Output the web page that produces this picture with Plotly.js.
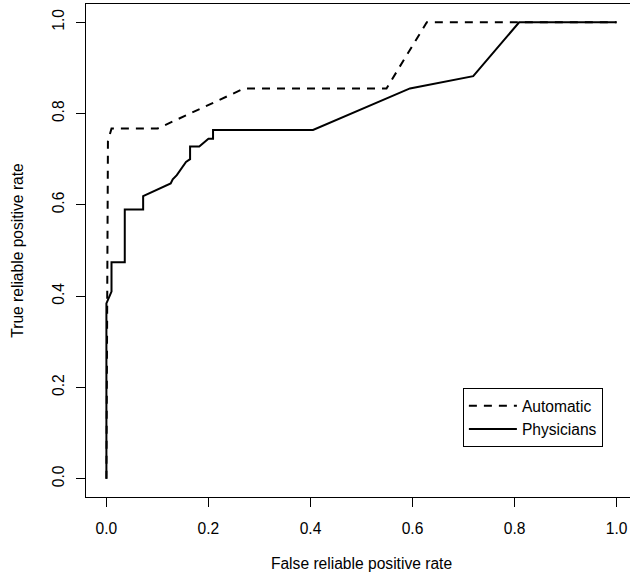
<!DOCTYPE html>
<html>
<head>
<meta charset="utf-8">
<script src="https://cdn.plot.ly/plotly-3.0.1.min.js"></script>
<style>
html, body { margin: 0; padding: 0; overflow: hidden; background: #fff; }
#chart { width: 640px; height: 577px; }
</style>
</head>
<body>
<div id="chart"></div>
<script>
// Automatic ROC curve
const autoFpr = [0, 0.003, 0.01, 0.1, 0.27, 0.549, 0.628, 1.0];
const autoTpr = [0, 0.74, 0.767, 0.767, 0.855, 0.855, 1.0, 1.0];

// Physicians ROC curve
const physFpr = [0, 0, 0.01, 0.01, 0.036, 0.036, 0.072, 0.072, 0.126, 0.130, 0.138, 0.156, 0.164, 0.164, 0.182, 0.200, 0.209, 0.209, 0.405, 0.595, 0.719, 0.809, 1.0];
const physTpr = [0, 0.384, 0.41, 0.474, 0.474, 0.59, 0.59, 0.619, 0.647, 0.656, 0.665, 0.694, 0.700, 0.728, 0.728, 0.745, 0.745, 0.764, 0.764, 0.855, 0.882, 1.0, 1.0];

const tickVals = [0, 0.2, 0.4, 0.6, 0.8, 1.0];
const tickText = ['0.0', '0.2', '0.4', '0.6', '0.8', '1.0'];

const FONT = 'Liberation Sans, Arial, Helvetica, sans-serif';
const FS = 15.6;

const traces = [
  {
    x: autoFpr, y: autoTpr, name: 'Automatic', type: 'scatter', mode: 'lines',
    line: { color: 'black', width: 2, dash: '8px,7px' }
  },
  {
    x: physFpr, y: physTpr, name: 'Physicians', type: 'scatter', mode: 'lines',
    line: { color: 'black', width: 2 }
  }
];

const axisCommon = {
  tickvals: tickVals, ticktext: tickText,
  ticks: 'outside', ticklen: 9, tickwidth: 1, tickcolor: 'black',
  showline: true, mirror: true, linecolor: 'black', linewidth: 1,
  showgrid: false, zeroline: false,
  tickfont: { family: FONT, size: FS, color: 'black' }
};

const layout = {
  width: 640, height: 577,
  margin: { l: 86, r: 3, t: 4, b: 80 },
  paper_bgcolor: 'white', plot_bgcolor: 'white',
  font: { family: FONT, size: FS, color: 'black' },
  showlegend: true,
  legend: {
    x: 0.684, y: 0.221, xanchor: 'left', yanchor: 'top',
    itemwidth: 48, tracegroupgap: 0,
    bordercolor: 'black', borderwidth: 1, bgcolor: 'white',
    font: { family: FONT, size: FS, color: 'black' }
  },
  xaxis: Object.assign({}, axisCommon, {
    range: [-0.04, 1.04],
    ticklabelstandoff: 8,
    title: { text: 'False reliable positive rate', font: { family: FONT, size: FS }, standoff: 22 }
  }),
  yaxis: Object.assign({}, axisCommon, {
    range: [-0.04, 1.04],
    tickangle: -90,
    ticklabelstandoff: 6,
    title: { text: 'True reliable positive rate', font: { family: FONT, size: FS }, standoff: 22 }
  })
};

Plotly.newPlot('chart', traces, layout, { displayModeBar: false, staticPlot: true });
</script>
</body>
</html>
